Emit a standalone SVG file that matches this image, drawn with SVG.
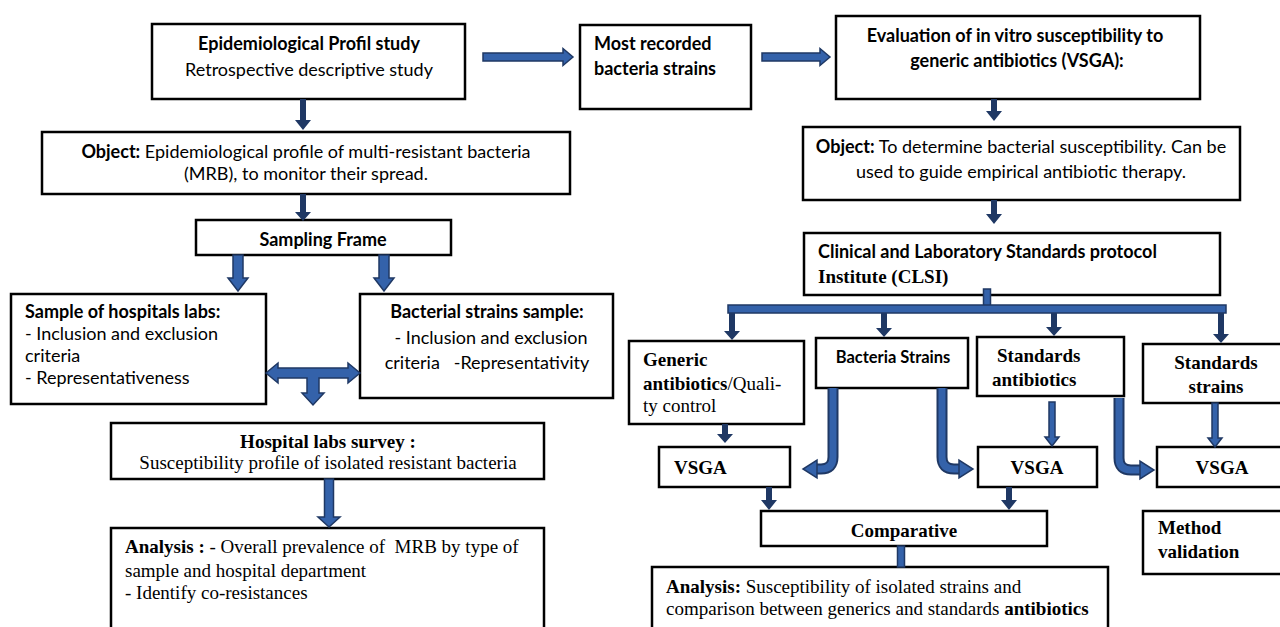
<svg xmlns="http://www.w3.org/2000/svg" width="1280" height="627" viewBox="0 0 1280 627">
<style>
.box{fill:#fff;stroke:#000;stroke-width:2.5}
.c{font-family:Lato,"Open Sans","Liberation Sans",sans-serif;font-size:18px;fill:#000}
.b{font-weight:700}
.t{font-family:"Liberation Serif","Times New Roman",serif;font-size:19px;fill:#000}
.pre{white-space:pre}
.dk{fill:#1f3864}
.bl{fill:#3462aa;stroke:#1f3864;stroke-width:1.5}
.to{fill:none;stroke:#1f3864;stroke-width:11}
.ti{fill:none;stroke:#3462aa;stroke-width:7}
</style>
<rect width="1280" height="627" fill="#fff"/>

<g id="epi">
<rect class="box" x="152" y="24" width="313" height="75"/>
<text class="c b" x="309" y="50" text-anchor="middle">Epidemiological Profil study</text>
<text class="c" x="309" y="76" text-anchor="middle">Retrospective descriptive study</text>
</g>
<g id="most">
<rect class="box" x="580" y="25" width="171" height="84"/>
<text class="c b" x="594" y="50">Most recorded</text>
<text class="c b" x="594" y="75">bacteria strains</text>
</g>
<g id="eval">
<rect class="box" x="836" y="16" width="364" height="83"/>
<text class="c b" x="1015" y="42" text-anchor="middle">Evaluation of in vitro susceptibility to</text>
<text class="c b" x="1017" y="67" text-anchor="middle">generic antibiotics (VSGA):</text>
</g>
<g id="object1">
<rect class="box" x="42" y="132" width="528" height="62"/>
<text class="c" x="306" y="158" text-anchor="middle"><tspan class="b">Object:</tspan> Epidemiological profile of multi-resistant bacteria</text>
<text class="c" x="306" y="180" text-anchor="middle">(MRB), to monitor their spread.</text>
</g>
<g id="object2">
<rect class="box" x="803" y="127" width="437" height="73"/>
<text class="c" x="1021" y="153" text-anchor="middle"><tspan class="b">Object:</tspan> To determine bacterial susceptibility. Can be</text>
<text class="c" x="1021" y="178" text-anchor="middle">used to guide empirical antibiotic therapy.</text>
</g>
<g id="sampling">
<rect class="box" x="196" y="220" width="255" height="35"/>
<text class="c b" x="323" y="246" text-anchor="middle">Sampling Frame</text>
</g>
<g id="clsi">
<rect class="box" x="804" y="233" width="416" height="62"/>
<text class="c b" x="818" y="258">Clinical and Laboratory Standards protocol</text>
<text class="t b" x="818" y="283">Institute (CLSI)</text>
</g>
<g id="hosplabs">
<rect class="box" x="11" y="294" width="255" height="110"/>
<text class="c b" x="25" y="318">Sample of hospitals labs:</text>
<text class="c" x="25" y="340">- Inclusion and exclusion</text>
<text class="c" x="25" y="362">criteria</text>
<text class="c" x="25" y="384">- Representativeness</text>
</g>
<g id="bactsample">
<rect class="box" x="360" y="294" width="253" height="104"/>
<text class="c b" x="487" y="318" text-anchor="middle">Bacterial strains sample:</text>
<text class="c" x="491" y="344" text-anchor="middle">- Inclusion and exclusion</text>
<text class="c pre" x="487" y="369" text-anchor="middle">criteria   -Representativity</text>
</g>
<g id="survey">
<rect class="box" x="111" y="423" width="433" height="56"/>
<text class="t b" x="328" y="448" text-anchor="middle">Hospital labs survey :</text>
<text class="t" x="328" y="469" text-anchor="middle">Susceptibility profile of isolated resistant bacteria</text>
</g>
<g id="analysis1">
<rect class="box" x="111" y="528" width="433" height="120"/>
<text class="t pre" x="125" y="553"><tspan class="b">Analysis :</tspan> - Overall prevalence of  MRB by type of</text>
<text class="t" x="125" y="577">sample and hospital department</text>
<text class="t" x="125" y="599">- Identify co-resistances</text>
</g>
<g id="generic">
<rect class="box" x="629" y="341" width="175" height="83"/>
<text class="t b" x="643" y="366">Generic</text>
<text class="t" x="643" y="390"><tspan class="b">antibiotics</tspan>/Quali-</text>
<text class="t" x="643" y="412">ty control</text>
</g>
<g id="bacteria">
<rect class="box" x="816" y="338" width="152" height="50"/>
<text class="c b" x="893" y="363" text-anchor="middle" style="font-size:16.5px">Bacteria Strains</text>
</g>
<g id="stdanti">
<rect class="box" x="977" y="337" width="147" height="59"/>
<text class="t b" x="997" y="362">Standards</text>
<text class="t b" x="992" y="386">antibiotics</text>
</g>
<g id="stdstrains">
<rect class="box" x="1143" y="344" width="150" height="59"/>
<text class="t b" x="1216" y="369" text-anchor="middle">Standards</text>
<text class="t b" x="1216" y="393" text-anchor="middle">strains</text>
</g>
<g id="vsga1">
<rect class="box" x="659" y="447" width="131" height="40"/>
<text class="t b" x="674" y="474">VSGA</text>
</g>
<g id="vsga2">
<rect class="box" x="978" y="447" width="119" height="40"/>
<text class="t b" x="1037" y="474" text-anchor="middle">VSGA</text>
</g>
<g id="vsga3">
<rect class="box" x="1157" y="447" width="140" height="40"/>
<text class="t b" x="1222" y="474" text-anchor="middle">VSGA</text>
</g>
<g id="comparative">
<rect class="box" x="761" y="511" width="286" height="35"/>
<text class="t b" x="904" y="537" text-anchor="middle">Comparative</text>
</g>
<g id="analysis2">
<rect class="box" x="652" y="567" width="456" height="80"/>
<text class="t" x="666" y="593"><tspan class="b">Analysis:</tspan> Susceptibility of isolated strains and</text>
<text class="t" x="666" y="615">comparison between generics and standards <tspan class="b">antibiotics</tspan></text>
</g>
<g id="method">
<rect class="box" x="1143" y="511" width="150" height="63"/>
<text class="t b" x="1158" y="534">Method</text>
<text class="t b" x="1158" y="558">validation</text>
</g>

<g id="connectors">
<polygon class="bl" points="483,53 563,53 563,48.5 573,57 563,65.5 563,61 483,61"/>
<polygon class="bl" points="762,53 820,53 820,48.5 830,57 820,65.5 820,61 762,61"/>
<polygon class="dk" points="300,99 306,99 306,120 311,120 303,130 295,120 300,120"/>
<polygon class="dk" points="300,194 306,194 306,212 311,212 303,221 295,212 300,212"/>
<polygon class="dk" points="991,99 997,99 997,111 1002,111 994,121 986,111 991,111"/>
<polygon class="dk" points="991,200 997,200 997,214 1002,214 994,224 986,214 991,214"/>
<polygon class="bl" points="233,255 243,255 243,278 248,278 238,291 228,278 233,278"/>
<polygon class="bl" points="379,255 389,255 389,278 394,278 384,291 374,278 379,278"/>
<polygon class="bl" points="266,373 278,363 278,368 348,368 348,363 360,373 348,383 348,378 319,378 319,393 324,393 313,405 302,393 307,393 307,378 278,378 278,383"/>
<polygon class="bl" points="324.5,479 333.5,479 333.5,517 340,517 329,527 318,517 324.5,517"/>
<rect class="bl" x="983.5" y="289" width="7" height="17"/>
<rect class="bl" x="728" y="305" width="498" height="8"/>
<polygon class="dk" points="729,313 735,313 735,331 740,331 732,340 724,331 729,331"/>
<polygon class="dk" points="881,313 887,313 887,328 892,328 884,337 876,328 881,328"/>
<polygon class="dk" points="1051,313 1057,313 1057,327 1062,327 1054,336 1046,327 1051,327"/>
<polygon class="dk" points="1218,313 1224,313 1224,334 1229,334 1221,343 1213,334 1218,334"/>
<polygon class="dk" points="722,424 728,424 728,434 733,434 725,443 717,434 722,434"/>
<path class="to" d="M833,388 L833,457 Q833,469 821,469 L816,469"/>
<path class="ti" d="M833,388 L833,457 Q833,469 821,469 L815,469"/>
<polygon class="bl" points="817,460 817,478 803,469"/>
<path class="to" d="M942,388 L942,457 Q942,469 954,469 L960,469"/>
<path class="ti" d="M942,388 L942,457 Q942,469 954,469 L961,469"/>
<polygon class="bl" points="959,460 959,478 973,469"/>
<path class="to" d="M1119,398 L1119,458 Q1119,470 1131,470 L1141,470"/>
<path class="ti" d="M1119,398 L1119,458 Q1119,470 1131,470 L1142,470"/>
<polygon class="bl" points="1140,461 1140,479 1154,470"/>
<polygon class="bl" points="1049,402 1055,402 1055,437 1059,437 1052,446 1045,437 1049,437"/>
<polygon class="bl" points="1212,403 1218,403 1218,438 1222,438 1215,447 1208,438 1212,438"/>
<polygon class="dk" points="766,487 772,487 772,500 777,500 769,510 761,500 766,500"/>
<polygon class="dk" points="1006,487 1012,487 1012,500 1017,500 1009,510 1001,500 1006,500"/>
<rect class="bl" x="897.5" y="546" width="7" height="21"/>
</g>
</svg>
